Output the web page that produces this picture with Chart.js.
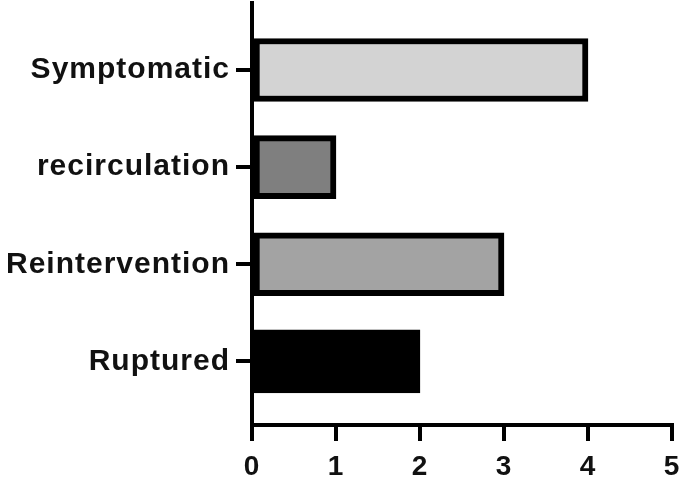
<!DOCTYPE html>
<html>
<head>
<meta charset="utf-8">
<script src="https://cdn.jsdelivr.net/npm/chart.js@4.4.0/dist/chart.umd.min.js"></script>
<style>
  html, body { margin: 0; padding: 0; background: #fff; }
  #wrap { width: 685px; height: 484px; }
</style>
</head>
<body>
<div id="wrap"><canvas id="myChart" width="685" height="484"></canvas></div>
<script>
// categories top to bottom, counts
var categories = ['Symptomatic', 'recirculation', 'Reintervention', 'Ruptured'];
var counts     = [4, 1, 3, 2];
var fills      = ['#d3d3d3', '#7f7f7f', '#a3a3a3', '#000000'];
var xTicks     = [0, 1, 2, 3, 4, 5];

var points = categories.map(function(name, i) { return { x: counts[i], y: i }; });

var spacing = {
  id: 'spacing',
  beforeDraw: function(chart) { chart.ctx.letterSpacing = '1px'; }
};

var ctx = document.getElementById('myChart').getContext('2d');
var myChart = new Chart(ctx, {
  type: 'bar',
  data: {
    datasets: [{
      data: points,
      backgroundColor: fills,
      borderColor: '#000',
      borderWidth: 6,
      borderSkipped: false,
      barThickness: 63
    }]
  },
  plugins: [spacing],
  options: {
    indexAxis: 'y',
    responsive: false,
    animation: false,
    layout: { padding: { top: 3, right: 13, left: 0, bottom: 0 } },
    plugins: { legend: { display: false }, tooltip: { enabled: false } },
    scales: {
      x: {
        type: 'linear',
        min: xTicks[0],
        max: xTicks[xTicks.length - 1],
        afterBuildTicks: function(scale) {
          scale.ticks = xTicks.map(function(v) { return { value: v }; });
        },
        afterFit: function(scale) {
          scale.height = 59;
          scale.paddingLeft = 0;
          scale.paddingRight = 0;
        },
        border: { display: true, color: '#000', width: 4 },
        grid: { drawOnChartArea: false, color: '#000', lineWidth: 4, tickLength: 16 },
        ticks: {
          color: '#111',
          padding: 9,
          font: { family: 'Liberation Sans, Arial, sans-serif', size: 28, weight: 'bold' }
        }
      },
      y: {
        type: 'linear',
        reverse: true,
        offset: false,
        min: -0.69,
        max: 3.655,
        afterBuildTicks: function(scale) {
          scale.ticks = categories.map(function(c, i) { return { value: i }; });
        },
        afterFit: function(scale) {
          scale.width = 252;
          scale.paddingTop = 0;
          scale.paddingBottom = 0;
        },
        border: { display: true, color: '#000', width: 4 },
        grid: { offset: false, drawOnChartArea: false, color: '#000', lineWidth: 4, tickLength: 16 },
        ticks: {
          color: '#111',
          padding: 6,
          autoSkip: false,
          callback: function(value) { return categories[value]; },
          font: { family: 'Liberation Sans, Arial, sans-serif', size: 30, weight: 'bold' }
        }
      }
    }
  }
});
</script>
</body>
</html>
